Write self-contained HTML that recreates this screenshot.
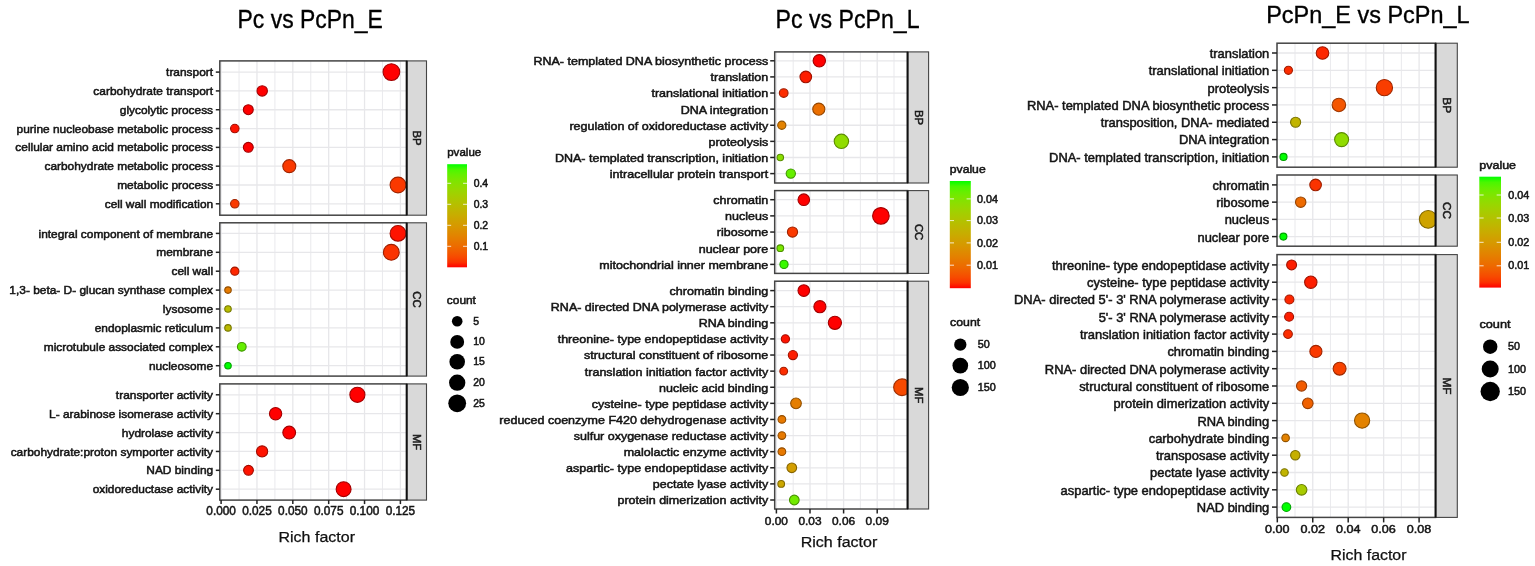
<!DOCTYPE html>
<html><head><meta charset="utf-8"><title>Rich factor dot plots</title>
<style>html,body{margin:0;padding:0;background:#fff;}svg{display:block;}text{font-family:'Liberation Sans',Arial,sans-serif;}</style>
</head><body>
<svg width="1535" height="566" viewBox="0 0 1535 566">
<rect width="1535" height="566" fill="#fff"/>
<rect x="219.8" y="60.9" width="186.89999999999998" height="154.29999999999998" fill="#fff"/>
<line x1="239.03" y1="60.9" x2="239.03" y2="215.2" stroke="#ebebee" stroke-width="1.1"/>
<line x1="274.89" y1="60.9" x2="274.89" y2="215.2" stroke="#ebebee" stroke-width="1.1"/>
<line x1="310.75" y1="60.9" x2="310.75" y2="215.2" stroke="#ebebee" stroke-width="1.1"/>
<line x1="346.61" y1="60.9" x2="346.61" y2="215.2" stroke="#ebebee" stroke-width="1.1"/>
<line x1="382.47" y1="60.9" x2="382.47" y2="215.2" stroke="#ebebee" stroke-width="1.1"/>
<line x1="221.10" y1="60.9" x2="221.10" y2="215.2" stroke="#e7e7ea" stroke-width="1.3"/>
<line x1="256.96" y1="60.9" x2="256.96" y2="215.2" stroke="#e7e7ea" stroke-width="1.3"/>
<line x1="292.82" y1="60.9" x2="292.82" y2="215.2" stroke="#e7e7ea" stroke-width="1.3"/>
<line x1="328.68" y1="60.9" x2="328.68" y2="215.2" stroke="#e7e7ea" stroke-width="1.3"/>
<line x1="364.54" y1="60.9" x2="364.54" y2="215.2" stroke="#e7e7ea" stroke-width="1.3"/>
<line x1="400.40" y1="60.9" x2="400.40" y2="215.2" stroke="#e7e7ea" stroke-width="1.3"/>
<line x1="219.8" y1="72.10" x2="406.7" y2="72.10" stroke="#e7e7ea" stroke-width="1.3"/>
<line x1="219.8" y1="90.91" x2="406.7" y2="90.91" stroke="#e7e7ea" stroke-width="1.3"/>
<line x1="219.8" y1="109.73" x2="406.7" y2="109.73" stroke="#e7e7ea" stroke-width="1.3"/>
<line x1="219.8" y1="128.54" x2="406.7" y2="128.54" stroke="#e7e7ea" stroke-width="1.3"/>
<line x1="219.8" y1="147.36" x2="406.7" y2="147.36" stroke="#e7e7ea" stroke-width="1.3"/>
<line x1="219.8" y1="166.17" x2="406.7" y2="166.17" stroke="#e7e7ea" stroke-width="1.3"/>
<line x1="219.8" y1="184.99" x2="406.7" y2="184.99" stroke="#e7e7ea" stroke-width="1.3"/>
<line x1="219.8" y1="203.80" x2="406.7" y2="203.80" stroke="#e7e7ea" stroke-width="1.3"/>
<g clip-path="url(#clip1BP)">
<circle cx="391.40" cy="72.10" r="8.35" fill="#ff0000" stroke="#a30000" stroke-width="1.1"/>
<circle cx="262.20" cy="90.91" r="5.20" fill="#ff0000" stroke="#a30000" stroke-width="1.1"/>
<circle cx="248.30" cy="109.73" r="4.95" fill="#ff0000" stroke="#a30000" stroke-width="1.1"/>
<circle cx="234.80" cy="128.54" r="4.25" fill="#fe1300" stroke="#a20c00" stroke-width="1.1"/>
<circle cx="248.30" cy="147.36" r="4.95" fill="#ff0000" stroke="#a30000" stroke-width="1.1"/>
<circle cx="289.30" cy="166.17" r="6.50" fill="#fa3900" stroke="#a02400" stroke-width="1.1"/>
<circle cx="398.00" cy="184.99" r="7.90" fill="#fa3900" stroke="#a02400" stroke-width="1.1"/>
<circle cx="234.80" cy="203.80" r="4.25" fill="#fa3900" stroke="#a02400" stroke-width="1.1"/>
</g>
<clipPath id="clip1BP"><rect x="219.8" y="60.9" width="186.89999999999998" height="154.29999999999998"/></clipPath>
<rect x="219.8" y="60.9" width="186.89999999999998" height="154.29999999999998" fill="none" stroke="#444444" stroke-width="1.5"/>
<rect x="406.7" y="60.9" width="19.80000000000001" height="154.29999999999998" fill="#d9d9d9" stroke="#444444" stroke-width="1.1"/>
<line x1="406.7" y1="60.9" x2="406.7" y2="215.2" stroke="#111" stroke-width="2"/>
<text transform="translate(417.40,138.05) rotate(90)" x="-7.51" y="4.05" font-size="11.3" fill="#1a1a1a" stroke="#1a1a1a" stroke-width="0.55">BP</text>
<line x1="215.8" y1="72.10" x2="219.8" y2="72.10" stroke="#222" stroke-width="1.5"/>
<text x="166.09" y="76.20" font-size="11" textLength="46.96" lengthAdjust="spacingAndGlyphs" fill="#141414" stroke="#141414" stroke-width="0.5" >transport</text>
<line x1="215.8" y1="90.91" x2="219.8" y2="90.91" stroke="#222" stroke-width="1.5"/>
<text x="93.39" y="95.01" font-size="11" textLength="119.72" lengthAdjust="spacingAndGlyphs" fill="#141414" stroke="#141414" stroke-width="0.5" >carbohydrate transport</text>
<line x1="215.8" y1="109.73" x2="219.8" y2="109.73" stroke="#222" stroke-width="1.5"/>
<text x="119.80" y="113.83" font-size="11" textLength="93.24" lengthAdjust="spacingAndGlyphs" fill="#141414" stroke="#141414" stroke-width="0.5" >glycolytic process</text>
<line x1="215.8" y1="128.54" x2="219.8" y2="128.54" stroke="#222" stroke-width="1.5"/>
<text x="16.63" y="132.64" font-size="11" textLength="196.45" lengthAdjust="spacingAndGlyphs" fill="#141414" stroke="#141414" stroke-width="0.5" >purine nucleobase metabolic process</text>
<line x1="215.8" y1="147.36" x2="219.8" y2="147.36" stroke="#222" stroke-width="1.5"/>
<text x="15.32" y="151.46" font-size="11" textLength="197.75" lengthAdjust="spacingAndGlyphs" fill="#141414" stroke="#141414" stroke-width="0.5" >cellular amino acid metabolic process</text>
<line x1="215.8" y1="166.17" x2="219.8" y2="166.17" stroke="#222" stroke-width="1.5"/>
<text x="44.48" y="170.27" font-size="11" textLength="168.66" lengthAdjust="spacingAndGlyphs" fill="#141414" stroke="#141414" stroke-width="0.5" >carbohydrate metabolic process</text>
<line x1="215.8" y1="184.99" x2="219.8" y2="184.99" stroke="#222" stroke-width="1.5"/>
<text x="117.19" y="189.09" font-size="11" textLength="95.90" lengthAdjust="spacingAndGlyphs" fill="#141414" stroke="#141414" stroke-width="0.5" >metabolic process</text>
<line x1="215.8" y1="203.80" x2="219.8" y2="203.80" stroke="#222" stroke-width="1.5"/>
<text x="104.69" y="207.90" font-size="11" textLength="108.46" lengthAdjust="spacingAndGlyphs" fill="#141414" stroke="#141414" stroke-width="0.5" >cell wall modification</text>
<rect x="219.8" y="222.8" width="186.89999999999998" height="153.3" fill="#fff"/>
<line x1="239.03" y1="222.8" x2="239.03" y2="376.1" stroke="#ebebee" stroke-width="1.1"/>
<line x1="274.89" y1="222.8" x2="274.89" y2="376.1" stroke="#ebebee" stroke-width="1.1"/>
<line x1="310.75" y1="222.8" x2="310.75" y2="376.1" stroke="#ebebee" stroke-width="1.1"/>
<line x1="346.61" y1="222.8" x2="346.61" y2="376.1" stroke="#ebebee" stroke-width="1.1"/>
<line x1="382.47" y1="222.8" x2="382.47" y2="376.1" stroke="#ebebee" stroke-width="1.1"/>
<line x1="221.10" y1="222.8" x2="221.10" y2="376.1" stroke="#e7e7ea" stroke-width="1.3"/>
<line x1="256.96" y1="222.8" x2="256.96" y2="376.1" stroke="#e7e7ea" stroke-width="1.3"/>
<line x1="292.82" y1="222.8" x2="292.82" y2="376.1" stroke="#e7e7ea" stroke-width="1.3"/>
<line x1="328.68" y1="222.8" x2="328.68" y2="376.1" stroke="#e7e7ea" stroke-width="1.3"/>
<line x1="364.54" y1="222.8" x2="364.54" y2="376.1" stroke="#e7e7ea" stroke-width="1.3"/>
<line x1="400.40" y1="222.8" x2="400.40" y2="376.1" stroke="#e7e7ea" stroke-width="1.3"/>
<line x1="219.8" y1="233.40" x2="406.7" y2="233.40" stroke="#e7e7ea" stroke-width="1.3"/>
<line x1="219.8" y1="252.30" x2="406.7" y2="252.30" stroke="#e7e7ea" stroke-width="1.3"/>
<line x1="219.8" y1="271.20" x2="406.7" y2="271.20" stroke="#e7e7ea" stroke-width="1.3"/>
<line x1="219.8" y1="290.10" x2="406.7" y2="290.10" stroke="#e7e7ea" stroke-width="1.3"/>
<line x1="219.8" y1="309.00" x2="406.7" y2="309.00" stroke="#e7e7ea" stroke-width="1.3"/>
<line x1="219.8" y1="327.90" x2="406.7" y2="327.90" stroke="#e7e7ea" stroke-width="1.3"/>
<line x1="219.8" y1="346.80" x2="406.7" y2="346.80" stroke="#e7e7ea" stroke-width="1.3"/>
<line x1="219.8" y1="365.70" x2="406.7" y2="365.70" stroke="#e7e7ea" stroke-width="1.3"/>
<g clip-path="url(#clip1CC)">
<circle cx="398.00" cy="233.40" r="7.90" fill="#fe1300" stroke="#a20c00" stroke-width="1.1"/>
<circle cx="391.30" cy="252.30" r="7.90" fill="#fb3300" stroke="#a02000" stroke-width="1.1"/>
<circle cx="234.80" cy="271.20" r="4.10" fill="#fd2700" stroke="#a11800" stroke-width="1.1"/>
<circle cx="228.00" cy="290.10" r="3.25" fill="#e67b00" stroke="#934e00" stroke-width="1.1"/>
<circle cx="228.00" cy="309.00" r="3.25" fill="#b8bd00" stroke="#757800" stroke-width="1.1"/>
<circle cx="228.00" cy="327.90" r="3.25" fill="#bbba00" stroke="#777700" stroke-width="1.1"/>
<circle cx="241.80" cy="346.80" r="4.35" fill="#65ef00" stroke="#409800" stroke-width="1.1"/>
<circle cx="228.00" cy="365.70" r="3.25" fill="#00ff00" stroke="#00a300" stroke-width="1.1"/>
</g>
<clipPath id="clip1CC"><rect x="219.8" y="222.8" width="186.89999999999998" height="153.3"/></clipPath>
<rect x="219.8" y="222.8" width="186.89999999999998" height="153.3" fill="none" stroke="#444444" stroke-width="1.5"/>
<rect x="406.7" y="222.8" width="19.80000000000001" height="153.3" fill="#d9d9d9" stroke="#444444" stroke-width="1.1"/>
<line x1="406.7" y1="222.8" x2="406.7" y2="376.1" stroke="#111" stroke-width="2"/>
<text transform="translate(417.40,299.45) rotate(90)" x="-8.14" y="4.05" font-size="11.3" fill="#1a1a1a" stroke="#1a1a1a" stroke-width="0.55">CC</text>
<line x1="215.8" y1="233.40" x2="219.8" y2="233.40" stroke="#222" stroke-width="1.5"/>
<text x="38.53" y="237.50" font-size="11" textLength="174.62" lengthAdjust="spacingAndGlyphs" fill="#141414" stroke="#141414" stroke-width="0.5" >integral component of membrane</text>
<line x1="215.8" y1="252.30" x2="219.8" y2="252.30" stroke="#222" stroke-width="1.5"/>
<text x="156.22" y="256.40" font-size="11" textLength="56.87" lengthAdjust="spacingAndGlyphs" fill="#141414" stroke="#141414" stroke-width="0.5" >membrane</text>
<line x1="215.8" y1="271.20" x2="219.8" y2="271.20" stroke="#222" stroke-width="1.5"/>
<text x="171.45" y="275.30" font-size="11" textLength="41.66" lengthAdjust="spacingAndGlyphs" fill="#141414" stroke="#141414" stroke-width="0.5" >cell wall</text>
<line x1="215.8" y1="290.10" x2="219.8" y2="290.10" stroke="#222" stroke-width="1.5"/>
<text x="9.37" y="294.20" font-size="11" textLength="203.71" lengthAdjust="spacingAndGlyphs" fill="#141414" stroke="#141414" stroke-width="0.5" >1,3- beta- D- glucan synthase complex</text>
<line x1="215.8" y1="309.00" x2="219.8" y2="309.00" stroke="#222" stroke-width="1.5"/>
<text x="162.88" y="313.10" font-size="11" textLength="50.26" lengthAdjust="spacingAndGlyphs" fill="#141414" stroke="#141414" stroke-width="0.5" >lysosome</text>
<line x1="215.8" y1="327.90" x2="219.8" y2="327.90" stroke="#222" stroke-width="1.5"/>
<text x="94.69" y="332.00" font-size="11" textLength="118.38" lengthAdjust="spacingAndGlyphs" fill="#141414" stroke="#141414" stroke-width="0.5" >endoplasmic reticulum</text>
<line x1="215.8" y1="346.80" x2="219.8" y2="346.80" stroke="#222" stroke-width="1.5"/>
<text x="43.76" y="350.90" font-size="11" textLength="169.31" lengthAdjust="spacingAndGlyphs" fill="#141414" stroke="#141414" stroke-width="0.5" >microtubule associated complex</text>
<line x1="215.8" y1="365.70" x2="219.8" y2="365.70" stroke="#222" stroke-width="1.5"/>
<text x="148.96" y="369.80" font-size="11" textLength="64.16" lengthAdjust="spacingAndGlyphs" fill="#141414" stroke="#141414" stroke-width="0.5" >nucleosome</text>
<rect x="219.8" y="383.9" width="186.89999999999998" height="116.20000000000005" fill="#fff"/>
<line x1="239.03" y1="383.9" x2="239.03" y2="500.1" stroke="#ebebee" stroke-width="1.1"/>
<line x1="274.89" y1="383.9" x2="274.89" y2="500.1" stroke="#ebebee" stroke-width="1.1"/>
<line x1="310.75" y1="383.9" x2="310.75" y2="500.1" stroke="#ebebee" stroke-width="1.1"/>
<line x1="346.61" y1="383.9" x2="346.61" y2="500.1" stroke="#ebebee" stroke-width="1.1"/>
<line x1="382.47" y1="383.9" x2="382.47" y2="500.1" stroke="#ebebee" stroke-width="1.1"/>
<line x1="221.10" y1="383.9" x2="221.10" y2="500.1" stroke="#e7e7ea" stroke-width="1.3"/>
<line x1="256.96" y1="383.9" x2="256.96" y2="500.1" stroke="#e7e7ea" stroke-width="1.3"/>
<line x1="292.82" y1="383.9" x2="292.82" y2="500.1" stroke="#e7e7ea" stroke-width="1.3"/>
<line x1="328.68" y1="383.9" x2="328.68" y2="500.1" stroke="#e7e7ea" stroke-width="1.3"/>
<line x1="364.54" y1="383.9" x2="364.54" y2="500.1" stroke="#e7e7ea" stroke-width="1.3"/>
<line x1="400.40" y1="383.9" x2="400.40" y2="500.1" stroke="#e7e7ea" stroke-width="1.3"/>
<line x1="219.8" y1="394.80" x2="406.7" y2="394.80" stroke="#e7e7ea" stroke-width="1.3"/>
<line x1="219.8" y1="413.68" x2="406.7" y2="413.68" stroke="#e7e7ea" stroke-width="1.3"/>
<line x1="219.8" y1="432.56" x2="406.7" y2="432.56" stroke="#e7e7ea" stroke-width="1.3"/>
<line x1="219.8" y1="451.44" x2="406.7" y2="451.44" stroke="#e7e7ea" stroke-width="1.3"/>
<line x1="219.8" y1="470.32" x2="406.7" y2="470.32" stroke="#e7e7ea" stroke-width="1.3"/>
<line x1="219.8" y1="489.20" x2="406.7" y2="489.20" stroke="#e7e7ea" stroke-width="1.3"/>
<g clip-path="url(#clip1MF)">
<circle cx="357.40" cy="394.80" r="7.55" fill="#ff0000" stroke="#a30000" stroke-width="1.1"/>
<circle cx="275.60" cy="413.68" r="6.15" fill="#ff0000" stroke="#a30000" stroke-width="1.1"/>
<circle cx="289.20" cy="432.56" r="6.40" fill="#ff0000" stroke="#a30000" stroke-width="1.1"/>
<circle cx="262.10" cy="451.44" r="5.60" fill="#fe1300" stroke="#a20c00" stroke-width="1.1"/>
<circle cx="248.50" cy="470.32" r="4.90" fill="#fe1300" stroke="#a20c00" stroke-width="1.1"/>
<circle cx="343.60" cy="489.20" r="7.45" fill="#ff0000" stroke="#a30000" stroke-width="1.1"/>
</g>
<clipPath id="clip1MF"><rect x="219.8" y="383.9" width="186.89999999999998" height="116.20000000000005"/></clipPath>
<rect x="219.8" y="383.9" width="186.89999999999998" height="116.20000000000005" fill="none" stroke="#444444" stroke-width="1.5"/>
<rect x="406.7" y="383.9" width="19.80000000000001" height="116.20000000000005" fill="#d9d9d9" stroke="#444444" stroke-width="1.1"/>
<line x1="406.7" y1="383.9" x2="406.7" y2="500.1" stroke="#111" stroke-width="2"/>
<text transform="translate(417.40,442.00) rotate(90)" x="-8.14" y="4.05" font-size="11.3" fill="#1a1a1a" stroke="#1a1a1a" stroke-width="0.55">MF</text>
<line x1="215.8" y1="394.80" x2="219.8" y2="394.80" stroke="#222" stroke-width="1.5"/>
<text x="115.88" y="398.90" font-size="11" textLength="97.21" lengthAdjust="spacingAndGlyphs" fill="#141414" stroke="#141414" stroke-width="0.5" >transporter activity</text>
<line x1="215.8" y1="413.68" x2="219.8" y2="413.68" stroke="#222" stroke-width="1.5"/>
<text x="49.12" y="417.78" font-size="11" textLength="164.02" lengthAdjust="spacingAndGlyphs" fill="#141414" stroke="#141414" stroke-width="0.5" >L- arabinose isomerase activity</text>
<line x1="215.8" y1="432.56" x2="219.8" y2="432.56" stroke="#222" stroke-width="1.5"/>
<text x="121.83" y="436.66" font-size="11" textLength="91.27" lengthAdjust="spacingAndGlyphs" fill="#141414" stroke="#141414" stroke-width="0.5" >hydrolase activity</text>
<line x1="215.8" y1="451.44" x2="219.8" y2="451.44" stroke="#222" stroke-width="1.5"/>
<text x="10.68" y="455.54" font-size="11" textLength="202.37" lengthAdjust="spacingAndGlyphs" fill="#141414" stroke="#141414" stroke-width="0.5" >carbohydrate:proton symporter activity</text>
<line x1="215.8" y1="470.32" x2="219.8" y2="470.32" stroke="#222" stroke-width="1.5"/>
<text x="146.34" y="474.42" font-size="11" textLength="66.81" lengthAdjust="spacingAndGlyphs" fill="#141414" stroke="#141414" stroke-width="0.5" >NAD binding</text>
<line x1="215.8" y1="489.20" x2="219.8" y2="489.20" stroke="#222" stroke-width="1.5"/>
<text x="92.67" y="493.30" font-size="11" textLength="120.38" lengthAdjust="spacingAndGlyphs" fill="#141414" stroke="#141414" stroke-width="0.5" >oxidoreductase activity</text>
<line x1="221.10" y1="500.1" x2="221.10" y2="504.1" stroke="#222" stroke-width="1.5"/>
<text x="206.35" y="515.30" font-size="12" textLength="29.53" lengthAdjust="spacingAndGlyphs" fill="#141414" stroke="#141414" stroke-width="0.5" >0.000</text>
<line x1="256.96" y1="500.1" x2="256.96" y2="504.1" stroke="#222" stroke-width="1.5"/>
<text x="242.21" y="515.30" font-size="12" textLength="29.53" lengthAdjust="spacingAndGlyphs" fill="#141414" stroke="#141414" stroke-width="0.5" >0.025</text>
<line x1="292.82" y1="500.1" x2="292.82" y2="504.1" stroke="#222" stroke-width="1.5"/>
<text x="278.07" y="515.30" font-size="12" textLength="29.53" lengthAdjust="spacingAndGlyphs" fill="#141414" stroke="#141414" stroke-width="0.5" >0.050</text>
<line x1="328.68" y1="500.1" x2="328.68" y2="504.1" stroke="#222" stroke-width="1.5"/>
<text x="313.93" y="515.30" font-size="12" textLength="29.53" lengthAdjust="spacingAndGlyphs" fill="#141414" stroke="#141414" stroke-width="0.5" >0.075</text>
<line x1="364.54" y1="500.1" x2="364.54" y2="504.1" stroke="#222" stroke-width="1.5"/>
<text x="349.79" y="515.30" font-size="12" textLength="29.53" lengthAdjust="spacingAndGlyphs" fill="#141414" stroke="#141414" stroke-width="0.5" >0.100</text>
<line x1="400.40" y1="500.1" x2="400.40" y2="504.1" stroke="#222" stroke-width="1.5"/>
<text x="385.65" y="515.30" font-size="12" textLength="29.53" lengthAdjust="spacingAndGlyphs" fill="#141414" stroke="#141414" stroke-width="0.5" >0.125</text>
<text x="237.60" y="27.90" font-size="25" textLength="145.11" lengthAdjust="spacingAndGlyphs" fill="#000" stroke="#000" stroke-width="0.35" >Pc vs PcPn_E</text>
<text x="278.50" y="541.60" font-size="14.7" textLength="76.48" lengthAdjust="spacingAndGlyphs" fill="#111" stroke="#111" stroke-width="0.25" >Rich factor</text>
<text x="447.20" y="156.40" font-size="11" textLength="34.06" lengthAdjust="spacingAndGlyphs" fill="#141414" stroke="#141414" stroke-width="0.5" >pvalue</text>
<linearGradient id="g1" x1="0" y1="0" x2="0" y2="1"><stop offset="0.00" stop-color="#00ff00"/><stop offset="0.05" stop-color="#49f700"/><stop offset="0.10" stop-color="#65ef00"/><stop offset="0.15" stop-color="#7ae700"/><stop offset="0.20" stop-color="#8adf00"/><stop offset="0.25" stop-color="#98d700"/><stop offset="0.30" stop-color="#a4ce00"/><stop offset="0.35" stop-color="#aec600"/><stop offset="0.40" stop-color="#b8bd00"/><stop offset="0.45" stop-color="#c1b400"/><stop offset="0.50" stop-color="#c9ab00"/><stop offset="0.55" stop-color="#d0a100"/><stop offset="0.60" stop-color="#d79800"/><stop offset="0.65" stop-color="#dd8d00"/><stop offset="0.70" stop-color="#e38200"/><stop offset="0.75" stop-color="#e87600"/><stop offset="0.80" stop-color="#ed6a00"/><stop offset="0.85" stop-color="#f25b00"/><stop offset="0.90" stop-color="#f74a00"/><stop offset="0.95" stop-color="#fb3300"/><stop offset="1.00" stop-color="#ff0000"/></linearGradient>
<rect x="447.2" y="164.2" width="19.80000000000001" height="103.10000000000002" fill="url(#g1)"/>
<line x1="447.2" y1="183.3" x2="451.16" y2="183.3" stroke="#fff" stroke-width="1" opacity="0.8"/>
<line x1="463.04" y1="183.3" x2="467.0" y2="183.3" stroke="#fff" stroke-width="1" opacity="0.8"/>
<text x="473.70" y="186.88" font-size="10" textLength="14.46" lengthAdjust="spacingAndGlyphs" fill="#141414" stroke="#141414" stroke-width="0.5" >0.4</text>
<line x1="447.2" y1="204.3" x2="451.16" y2="204.3" stroke="#fff" stroke-width="1" opacity="0.8"/>
<line x1="463.04" y1="204.3" x2="467.0" y2="204.3" stroke="#fff" stroke-width="1" opacity="0.8"/>
<text x="473.70" y="207.88" font-size="10" textLength="14.46" lengthAdjust="spacingAndGlyphs" fill="#141414" stroke="#141414" stroke-width="0.5" >0.3</text>
<line x1="447.2" y1="225.3" x2="451.16" y2="225.3" stroke="#fff" stroke-width="1" opacity="0.8"/>
<line x1="463.04" y1="225.3" x2="467.0" y2="225.3" stroke="#fff" stroke-width="1" opacity="0.8"/>
<text x="473.70" y="228.88" font-size="10" textLength="14.46" lengthAdjust="spacingAndGlyphs" fill="#141414" stroke="#141414" stroke-width="0.5" >0.2</text>
<line x1="447.2" y1="246.3" x2="451.16" y2="246.3" stroke="#fff" stroke-width="1" opacity="0.8"/>
<line x1="463.04" y1="246.3" x2="467.0" y2="246.3" stroke="#fff" stroke-width="1" opacity="0.8"/>
<text x="473.70" y="249.88" font-size="10" textLength="14.46" lengthAdjust="spacingAndGlyphs" fill="#141414" stroke="#141414" stroke-width="0.5" >0.1</text>
<text x="446.80" y="303.50" font-size="11" textLength="29.15" lengthAdjust="spacingAndGlyphs" fill="#141414" stroke="#141414" stroke-width="0.5" >count</text>
<circle cx="457.2" cy="321.3" r="5.30" fill="#000"/>
<text x="473.30" y="324.88" font-size="10" textLength="5.78" lengthAdjust="spacingAndGlyphs" fill="#141414" stroke="#141414" stroke-width="0.5" >5</text>
<circle cx="457.2" cy="341.9" r="6.95" fill="#000"/>
<text x="473.30" y="345.48" font-size="10" textLength="11.57" lengthAdjust="spacingAndGlyphs" fill="#141414" stroke="#141414" stroke-width="0.5" >10</text>
<circle cx="457.2" cy="361.7" r="7.80" fill="#000"/>
<text x="473.30" y="365.28" font-size="10" textLength="11.57" lengthAdjust="spacingAndGlyphs" fill="#141414" stroke="#141414" stroke-width="0.5" >15</text>
<circle cx="457.2" cy="382.7" r="8.15" fill="#000"/>
<text x="473.30" y="386.28" font-size="10" textLength="11.57" lengthAdjust="spacingAndGlyphs" fill="#141414" stroke="#141414" stroke-width="0.5" >20</text>
<circle cx="457.2" cy="403.3" r="8.90" fill="#000"/>
<text x="473.30" y="406.88" font-size="10" textLength="11.57" lengthAdjust="spacingAndGlyphs" fill="#141414" stroke="#141414" stroke-width="0.5" >25</text>
<rect x="774.7" y="51.9" width="132.89999999999998" height="131.1" fill="#fff"/>
<line x1="793.20" y1="51.9" x2="793.20" y2="183.0" stroke="#ebebee" stroke-width="1.1"/>
<line x1="826.80" y1="51.9" x2="826.80" y2="183.0" stroke="#ebebee" stroke-width="1.1"/>
<line x1="860.40" y1="51.9" x2="860.40" y2="183.0" stroke="#ebebee" stroke-width="1.1"/>
<line x1="894.00" y1="51.9" x2="894.00" y2="183.0" stroke="#ebebee" stroke-width="1.1"/>
<line x1="776.40" y1="51.9" x2="776.40" y2="183.0" stroke="#e7e7ea" stroke-width="1.3"/>
<line x1="810.00" y1="51.9" x2="810.00" y2="183.0" stroke="#e7e7ea" stroke-width="1.3"/>
<line x1="843.60" y1="51.9" x2="843.60" y2="183.0" stroke="#e7e7ea" stroke-width="1.3"/>
<line x1="877.20" y1="51.9" x2="877.20" y2="183.0" stroke="#e7e7ea" stroke-width="1.3"/>
<line x1="774.7" y1="60.80" x2="907.6" y2="60.80" stroke="#e7e7ea" stroke-width="1.3"/>
<line x1="774.7" y1="76.91" x2="907.6" y2="76.91" stroke="#e7e7ea" stroke-width="1.3"/>
<line x1="774.7" y1="93.03" x2="907.6" y2="93.03" stroke="#e7e7ea" stroke-width="1.3"/>
<line x1="774.7" y1="109.14" x2="907.6" y2="109.14" stroke="#e7e7ea" stroke-width="1.3"/>
<line x1="774.7" y1="125.26" x2="907.6" y2="125.26" stroke="#e7e7ea" stroke-width="1.3"/>
<line x1="774.7" y1="141.37" x2="907.6" y2="141.37" stroke="#e7e7ea" stroke-width="1.3"/>
<line x1="774.7" y1="157.49" x2="907.6" y2="157.49" stroke="#e7e7ea" stroke-width="1.3"/>
<line x1="774.7" y1="173.60" x2="907.6" y2="173.60" stroke="#e7e7ea" stroke-width="1.3"/>
<g clip-path="url(#clip2BP)">
<circle cx="819.30" cy="60.80" r="6.20" fill="#ff0000" stroke="#a30000" stroke-width="1.1"/>
<circle cx="805.80" cy="76.91" r="5.80" fill="#fd1e00" stroke="#a11300" stroke-width="1.1"/>
<circle cx="783.70" cy="93.03" r="4.35" fill="#fc2d00" stroke="#a11c00" stroke-width="1.1"/>
<circle cx="818.80" cy="109.14" r="6.05" fill="#eb6f00" stroke="#964700" stroke-width="1.1"/>
<circle cx="781.80" cy="125.26" r="4.10" fill="#e38200" stroke="#915300" stroke-width="1.1"/>
<circle cx="841.40" cy="141.37" r="7.20" fill="#90dc00" stroke="#5c8c00" stroke-width="1.1"/>
<circle cx="780.30" cy="157.49" r="3.25" fill="#8adf00" stroke="#588e00" stroke-width="1.1"/>
<circle cx="790.80" cy="173.60" r="4.65" fill="#65ef00" stroke="#409800" stroke-width="1.1"/>
</g>
<clipPath id="clip2BP"><rect x="774.7" y="51.9" width="132.89999999999998" height="131.1"/></clipPath>
<rect x="774.7" y="51.9" width="132.89999999999998" height="131.1" fill="none" stroke="#444444" stroke-width="1.5"/>
<rect x="907.6" y="51.9" width="21.0" height="131.1" fill="#d9d9d9" stroke="#444444" stroke-width="1.1"/>
<line x1="907.6" y1="51.9" x2="907.6" y2="183.0" stroke="#111" stroke-width="2"/>
<text transform="translate(918.90,117.45) rotate(90)" x="-7.51" y="4.05" font-size="11.3" fill="#1a1a1a" stroke="#1a1a1a" stroke-width="0.55">BP</text>
<line x1="770.2" y1="60.80" x2="774.7" y2="60.80" stroke="#222" stroke-width="1.5"/>
<text x="533.45" y="65.20" font-size="11.1" textLength="234.81" lengthAdjust="spacingAndGlyphs" fill="#141414" stroke="#141414" stroke-width="0.5" >RNA- templated DNA biosynthetic process</text>
<line x1="770.2" y1="76.91" x2="774.7" y2="76.91" stroke="#222" stroke-width="1.5"/>
<text x="710.58" y="81.31" font-size="11.1" textLength="57.67" lengthAdjust="spacingAndGlyphs" fill="#141414" stroke="#141414" stroke-width="0.5" >translation</text>
<line x1="770.2" y1="93.03" x2="774.7" y2="93.03" stroke="#222" stroke-width="1.5"/>
<text x="651.45" y="97.43" font-size="11.1" textLength="116.73" lengthAdjust="spacingAndGlyphs" fill="#141414" stroke="#141414" stroke-width="0.5" >translational initiation</text>
<line x1="770.2" y1="109.14" x2="774.7" y2="109.14" stroke="#222" stroke-width="1.5"/>
<text x="680.70" y="113.54" font-size="11.1" textLength="87.54" lengthAdjust="spacingAndGlyphs" fill="#141414" stroke="#141414" stroke-width="0.5" >DNA integration</text>
<line x1="770.2" y1="125.26" x2="774.7" y2="125.26" stroke="#222" stroke-width="1.5"/>
<text x="569.45" y="129.66" font-size="11.1" textLength="198.71" lengthAdjust="spacingAndGlyphs" fill="#141414" stroke="#141414" stroke-width="0.5" >regulation of oxidoreductase activity</text>
<line x1="770.2" y1="141.37" x2="774.7" y2="141.37" stroke="#222" stroke-width="1.5"/>
<text x="708.45" y="145.77" font-size="11.1" textLength="59.74" lengthAdjust="spacingAndGlyphs" fill="#141414" stroke="#141414" stroke-width="0.5" >proteolysis</text>
<line x1="770.2" y1="157.49" x2="774.7" y2="157.49" stroke="#222" stroke-width="1.5"/>
<text x="554.95" y="161.89" font-size="11.1" textLength="213.28" lengthAdjust="spacingAndGlyphs" fill="#141414" stroke="#141414" stroke-width="0.5" >DNA- templated transcription, initiation</text>
<line x1="770.2" y1="173.60" x2="774.7" y2="173.60" stroke="#222" stroke-width="1.5"/>
<text x="609.83" y="178.00" font-size="11.1" textLength="158.40" lengthAdjust="spacingAndGlyphs" fill="#141414" stroke="#141414" stroke-width="0.5" >intracellular protein transport</text>
<rect x="774.7" y="190.6" width="132.89999999999998" height="82.79999999999998" fill="#fff"/>
<line x1="793.20" y1="190.6" x2="793.20" y2="273.4" stroke="#ebebee" stroke-width="1.1"/>
<line x1="826.80" y1="190.6" x2="826.80" y2="273.4" stroke="#ebebee" stroke-width="1.1"/>
<line x1="860.40" y1="190.6" x2="860.40" y2="273.4" stroke="#ebebee" stroke-width="1.1"/>
<line x1="894.00" y1="190.6" x2="894.00" y2="273.4" stroke="#ebebee" stroke-width="1.1"/>
<line x1="776.40" y1="190.6" x2="776.40" y2="273.4" stroke="#e7e7ea" stroke-width="1.3"/>
<line x1="810.00" y1="190.6" x2="810.00" y2="273.4" stroke="#e7e7ea" stroke-width="1.3"/>
<line x1="843.60" y1="190.6" x2="843.60" y2="273.4" stroke="#e7e7ea" stroke-width="1.3"/>
<line x1="877.20" y1="190.6" x2="877.20" y2="273.4" stroke="#e7e7ea" stroke-width="1.3"/>
<line x1="774.7" y1="199.70" x2="907.6" y2="199.70" stroke="#e7e7ea" stroke-width="1.3"/>
<line x1="774.7" y1="215.88" x2="907.6" y2="215.88" stroke="#e7e7ea" stroke-width="1.3"/>
<line x1="774.7" y1="232.05" x2="907.6" y2="232.05" stroke="#e7e7ea" stroke-width="1.3"/>
<line x1="774.7" y1="248.22" x2="907.6" y2="248.22" stroke="#e7e7ea" stroke-width="1.3"/>
<line x1="774.7" y1="264.40" x2="907.6" y2="264.40" stroke="#e7e7ea" stroke-width="1.3"/>
<g clip-path="url(#clip2CC)">
<circle cx="803.80" cy="199.70" r="5.80" fill="#ff0000" stroke="#a30000" stroke-width="1.1"/>
<circle cx="880.90" cy="215.88" r="8.30" fill="#ff0000" stroke="#a30000" stroke-width="1.1"/>
<circle cx="792.50" cy="232.05" r="5.10" fill="#fa3900" stroke="#a02400" stroke-width="1.1"/>
<circle cx="780.30" cy="248.22" r="3.35" fill="#7ae700" stroke="#4e9300" stroke-width="1.1"/>
<circle cx="784.00" cy="264.40" r="4.10" fill="#38fa00" stroke="#23a000" stroke-width="1.1"/>
</g>
<clipPath id="clip2CC"><rect x="774.7" y="190.6" width="132.89999999999998" height="82.79999999999998"/></clipPath>
<rect x="774.7" y="190.6" width="132.89999999999998" height="82.79999999999998" fill="none" stroke="#444444" stroke-width="1.5"/>
<rect x="907.6" y="190.6" width="21.0" height="82.79999999999998" fill="#d9d9d9" stroke="#444444" stroke-width="1.1"/>
<line x1="907.6" y1="190.6" x2="907.6" y2="273.4" stroke="#111" stroke-width="2"/>
<text transform="translate(918.90,232.00) rotate(90)" x="-8.14" y="4.05" font-size="11.3" fill="#1a1a1a" stroke="#1a1a1a" stroke-width="0.55">CC</text>
<line x1="770.2" y1="199.70" x2="774.7" y2="199.70" stroke="#222" stroke-width="1.5"/>
<text x="713.33" y="204.10" font-size="11.1" textLength="54.88" lengthAdjust="spacingAndGlyphs" fill="#141414" stroke="#141414" stroke-width="0.5" >chromatin</text>
<line x1="770.2" y1="215.88" x2="774.7" y2="215.88" stroke="#222" stroke-width="1.5"/>
<text x="725.08" y="220.28" font-size="11.1" textLength="43.08" lengthAdjust="spacingAndGlyphs" fill="#141414" stroke="#141414" stroke-width="0.5" >nucleus</text>
<line x1="770.2" y1="232.05" x2="774.7" y2="232.05" stroke="#222" stroke-width="1.5"/>
<text x="716.83" y="236.45" font-size="11.1" textLength="51.41" lengthAdjust="spacingAndGlyphs" fill="#141414" stroke="#141414" stroke-width="0.5" >ribosome</text>
<line x1="770.2" y1="248.22" x2="774.7" y2="248.22" stroke="#222" stroke-width="1.5"/>
<text x="698.70" y="252.62" font-size="11.1" textLength="69.48" lengthAdjust="spacingAndGlyphs" fill="#141414" stroke="#141414" stroke-width="0.5" >nuclear pore</text>
<line x1="770.2" y1="264.40" x2="774.7" y2="264.40" stroke="#222" stroke-width="1.5"/>
<text x="599.33" y="268.80" font-size="11.1" textLength="168.82" lengthAdjust="spacingAndGlyphs" fill="#141414" stroke="#141414" stroke-width="0.5" >mitochondrial inner membrane</text>
<rect x="774.7" y="281.2" width="132.89999999999998" height="227.8" fill="#fff"/>
<line x1="793.20" y1="281.2" x2="793.20" y2="509.0" stroke="#ebebee" stroke-width="1.1"/>
<line x1="826.80" y1="281.2" x2="826.80" y2="509.0" stroke="#ebebee" stroke-width="1.1"/>
<line x1="860.40" y1="281.2" x2="860.40" y2="509.0" stroke="#ebebee" stroke-width="1.1"/>
<line x1="894.00" y1="281.2" x2="894.00" y2="509.0" stroke="#ebebee" stroke-width="1.1"/>
<line x1="776.40" y1="281.2" x2="776.40" y2="509.0" stroke="#e7e7ea" stroke-width="1.3"/>
<line x1="810.00" y1="281.2" x2="810.00" y2="509.0" stroke="#e7e7ea" stroke-width="1.3"/>
<line x1="843.60" y1="281.2" x2="843.60" y2="509.0" stroke="#e7e7ea" stroke-width="1.3"/>
<line x1="877.20" y1="281.2" x2="877.20" y2="509.0" stroke="#e7e7ea" stroke-width="1.3"/>
<line x1="774.7" y1="290.60" x2="907.6" y2="290.60" stroke="#e7e7ea" stroke-width="1.3"/>
<line x1="774.7" y1="306.71" x2="907.6" y2="306.71" stroke="#e7e7ea" stroke-width="1.3"/>
<line x1="774.7" y1="322.82" x2="907.6" y2="322.82" stroke="#e7e7ea" stroke-width="1.3"/>
<line x1="774.7" y1="338.92" x2="907.6" y2="338.92" stroke="#e7e7ea" stroke-width="1.3"/>
<line x1="774.7" y1="355.03" x2="907.6" y2="355.03" stroke="#e7e7ea" stroke-width="1.3"/>
<line x1="774.7" y1="371.14" x2="907.6" y2="371.14" stroke="#e7e7ea" stroke-width="1.3"/>
<line x1="774.7" y1="387.25" x2="907.6" y2="387.25" stroke="#e7e7ea" stroke-width="1.3"/>
<line x1="774.7" y1="403.35" x2="907.6" y2="403.35" stroke="#e7e7ea" stroke-width="1.3"/>
<line x1="774.7" y1="419.46" x2="907.6" y2="419.46" stroke="#e7e7ea" stroke-width="1.3"/>
<line x1="774.7" y1="435.57" x2="907.6" y2="435.57" stroke="#e7e7ea" stroke-width="1.3"/>
<line x1="774.7" y1="451.68" x2="907.6" y2="451.68" stroke="#e7e7ea" stroke-width="1.3"/>
<line x1="774.7" y1="467.78" x2="907.6" y2="467.78" stroke="#e7e7ea" stroke-width="1.3"/>
<line x1="774.7" y1="483.89" x2="907.6" y2="483.89" stroke="#e7e7ea" stroke-width="1.3"/>
<line x1="774.7" y1="500.00" x2="907.6" y2="500.00" stroke="#e7e7ea" stroke-width="1.3"/>
<g clip-path="url(#clip2MF)">
<circle cx="803.80" cy="290.60" r="5.80" fill="#ff0000" stroke="#a30000" stroke-width="1.1"/>
<circle cx="819.90" cy="306.71" r="6.05" fill="#ff0000" stroke="#a30000" stroke-width="1.1"/>
<circle cx="834.90" cy="322.82" r="6.60" fill="#ff0000" stroke="#a30000" stroke-width="1.1"/>
<circle cx="785.40" cy="338.92" r="4.10" fill="#fe1300" stroke="#a20c00" stroke-width="1.1"/>
<circle cx="792.90" cy="355.03" r="4.60" fill="#fd1e00" stroke="#a11300" stroke-width="1.1"/>
<circle cx="783.70" cy="371.14" r="3.85" fill="#fc2d00" stroke="#a11c00" stroke-width="1.1"/>
<circle cx="902.00" cy="387.25" r="8.35" fill="#f74a00" stroke="#9e2f00" stroke-width="1.1"/>
<circle cx="796.00" cy="403.35" r="5.35" fill="#e57e00" stroke="#925000" stroke-width="1.1"/>
<circle cx="781.90" cy="419.46" r="3.85" fill="#e77900" stroke="#934d00" stroke-width="1.1"/>
<circle cx="781.90" cy="435.57" r="3.85" fill="#e77900" stroke="#934d00" stroke-width="1.1"/>
<circle cx="781.90" cy="451.68" r="3.85" fill="#e77900" stroke="#934d00" stroke-width="1.1"/>
<circle cx="791.80" cy="467.78" r="4.85" fill="#d39e00" stroke="#876500" stroke-width="1.1"/>
<circle cx="781.20" cy="483.89" r="3.35" fill="#cca700" stroke="#826a00" stroke-width="1.1"/>
<circle cx="794.30" cy="500.00" r="4.85" fill="#72ea00" stroke="#489500" stroke-width="1.1"/>
</g>
<clipPath id="clip2MF"><rect x="774.7" y="281.2" width="132.89999999999998" height="227.8"/></clipPath>
<rect x="774.7" y="281.2" width="132.89999999999998" height="227.8" fill="none" stroke="#444444" stroke-width="1.5"/>
<rect x="907.6" y="281.2" width="21.0" height="227.8" fill="#d9d9d9" stroke="#444444" stroke-width="1.1"/>
<line x1="907.6" y1="281.2" x2="907.6" y2="509.0" stroke="#111" stroke-width="2"/>
<text transform="translate(918.90,395.10) rotate(90)" x="-8.14" y="4.05" font-size="11.3" fill="#1a1a1a" stroke="#1a1a1a" stroke-width="0.55">MF</text>
<line x1="770.2" y1="290.60" x2="774.7" y2="290.60" stroke="#222" stroke-width="1.5"/>
<text x="669.58" y="295.00" font-size="11.1" textLength="98.66" lengthAdjust="spacingAndGlyphs" fill="#141414" stroke="#141414" stroke-width="0.5" >chromatin binding</text>
<line x1="770.2" y1="306.71" x2="774.7" y2="306.71" stroke="#222" stroke-width="1.5"/>
<text x="550.83" y="311.11" font-size="11.1" textLength="217.42" lengthAdjust="spacingAndGlyphs" fill="#141414" stroke="#141414" stroke-width="0.5" >RNA- directed DNA polymerase activity</text>
<line x1="770.2" y1="322.82" x2="774.7" y2="322.82" stroke="#222" stroke-width="1.5"/>
<text x="698.70" y="327.22" font-size="11.1" textLength="69.49" lengthAdjust="spacingAndGlyphs" fill="#141414" stroke="#141414" stroke-width="0.5" >RNA binding</text>
<line x1="770.2" y1="338.92" x2="774.7" y2="338.92" stroke="#222" stroke-width="1.5"/>
<text x="557.70" y="343.32" font-size="11.1" textLength="210.54" lengthAdjust="spacingAndGlyphs" fill="#141414" stroke="#141414" stroke-width="0.5" >threonine- type endopeptidase activity</text>
<line x1="770.2" y1="355.03" x2="774.7" y2="355.03" stroke="#222" stroke-width="1.5"/>
<text x="584.08" y="359.43" font-size="11.1" textLength="184.10" lengthAdjust="spacingAndGlyphs" fill="#141414" stroke="#141414" stroke-width="0.5" >structural constituent of ribosome</text>
<line x1="770.2" y1="371.14" x2="774.7" y2="371.14" stroke="#222" stroke-width="1.5"/>
<text x="584.83" y="375.54" font-size="11.1" textLength="183.41" lengthAdjust="spacingAndGlyphs" fill="#141414" stroke="#141414" stroke-width="0.5" >translation initiation factor activity</text>
<line x1="770.2" y1="387.25" x2="774.7" y2="387.25" stroke="#222" stroke-width="1.5"/>
<text x="659.08" y="391.65" font-size="11.1" textLength="109.09" lengthAdjust="spacingAndGlyphs" fill="#141414" stroke="#141414" stroke-width="0.5" >nucleic acid binding</text>
<line x1="770.2" y1="403.35" x2="774.7" y2="403.35" stroke="#222" stroke-width="1.5"/>
<text x="591.70" y="407.75" font-size="11.1" textLength="176.47" lengthAdjust="spacingAndGlyphs" fill="#141414" stroke="#141414" stroke-width="0.5" >cysteine- type peptidase activity</text>
<line x1="770.2" y1="419.46" x2="774.7" y2="419.46" stroke="#222" stroke-width="1.5"/>
<text x="499.33" y="423.86" font-size="11.1" textLength="268.89" lengthAdjust="spacingAndGlyphs" fill="#141414" stroke="#141414" stroke-width="0.5" >reduced coenzyme F420 dehydrogenase activity</text>
<line x1="770.2" y1="435.57" x2="774.7" y2="435.57" stroke="#222" stroke-width="1.5"/>
<text x="573.70" y="439.97" font-size="11.1" textLength="194.53" lengthAdjust="spacingAndGlyphs" fill="#141414" stroke="#141414" stroke-width="0.5" >sulfur oxygenase reductase activity</text>
<line x1="770.2" y1="451.68" x2="774.7" y2="451.68" stroke="#222" stroke-width="1.5"/>
<text x="623.70" y="456.08" font-size="11.1" textLength="144.48" lengthAdjust="spacingAndGlyphs" fill="#141414" stroke="#141414" stroke-width="0.5" >malolactic enzyme activity</text>
<line x1="770.2" y1="467.78" x2="774.7" y2="467.78" stroke="#222" stroke-width="1.5"/>
<text x="566.08" y="472.18" font-size="11.1" textLength="202.18" lengthAdjust="spacingAndGlyphs" fill="#141414" stroke="#141414" stroke-width="0.5" >aspartic- type endopeptidase activity</text>
<line x1="770.2" y1="483.89" x2="774.7" y2="483.89" stroke="#222" stroke-width="1.5"/>
<text x="652.83" y="488.29" font-size="11.1" textLength="115.33" lengthAdjust="spacingAndGlyphs" fill="#141414" stroke="#141414" stroke-width="0.5" >pectate lyase activity</text>
<line x1="770.2" y1="500.00" x2="774.7" y2="500.00" stroke="#222" stroke-width="1.5"/>
<text x="617.45" y="504.40" font-size="11.1" textLength="150.75" lengthAdjust="spacingAndGlyphs" fill="#141414" stroke="#141414" stroke-width="0.5" >protein dimerization activity</text>
<line x1="776.40" y1="509.0" x2="776.40" y2="513.5" stroke="#222" stroke-width="1.5"/>
<text x="764.80" y="524.80" font-size="11.8" textLength="23.16" lengthAdjust="spacingAndGlyphs" fill="#141414" stroke="#141414" stroke-width="0.5" >0.00</text>
<line x1="810.00" y1="509.0" x2="810.00" y2="513.5" stroke="#222" stroke-width="1.5"/>
<text x="798.40" y="524.80" font-size="11.8" textLength="23.16" lengthAdjust="spacingAndGlyphs" fill="#141414" stroke="#141414" stroke-width="0.5" >0.03</text>
<line x1="843.60" y1="509.0" x2="843.60" y2="513.5" stroke="#222" stroke-width="1.5"/>
<text x="832.00" y="524.80" font-size="11.8" textLength="23.16" lengthAdjust="spacingAndGlyphs" fill="#141414" stroke="#141414" stroke-width="0.5" >0.06</text>
<line x1="877.20" y1="509.0" x2="877.20" y2="513.5" stroke="#222" stroke-width="1.5"/>
<text x="865.60" y="524.80" font-size="11.8" textLength="23.16" lengthAdjust="spacingAndGlyphs" fill="#141414" stroke="#141414" stroke-width="0.5" >0.09</text>
<text x="775.60" y="27.80" font-size="25" textLength="143.98" lengthAdjust="spacingAndGlyphs" fill="#000" stroke="#000" stroke-width="0.35" >Pc vs PcPn_L</text>
<text x="800.70" y="547.30" font-size="14" textLength="76.58" lengthAdjust="spacingAndGlyphs" fill="#111" stroke="#111" stroke-width="0.25" >Rich factor</text>
<text x="949.80" y="172.90" font-size="11" textLength="35.86" lengthAdjust="spacingAndGlyphs" fill="#141414" stroke="#141414" stroke-width="0.5" >pvalue</text>
<linearGradient id="g2" x1="0" y1="0" x2="0" y2="1"><stop offset="0.00" stop-color="#00ff00"/><stop offset="0.05" stop-color="#49f700"/><stop offset="0.10" stop-color="#65ef00"/><stop offset="0.15" stop-color="#7ae700"/><stop offset="0.20" stop-color="#8adf00"/><stop offset="0.25" stop-color="#98d700"/><stop offset="0.30" stop-color="#a4ce00"/><stop offset="0.35" stop-color="#aec600"/><stop offset="0.40" stop-color="#b8bd00"/><stop offset="0.45" stop-color="#c1b400"/><stop offset="0.50" stop-color="#c9ab00"/><stop offset="0.55" stop-color="#d0a100"/><stop offset="0.60" stop-color="#d79800"/><stop offset="0.65" stop-color="#dd8d00"/><stop offset="0.70" stop-color="#e38200"/><stop offset="0.75" stop-color="#e87600"/><stop offset="0.80" stop-color="#ed6a00"/><stop offset="0.85" stop-color="#f25b00"/><stop offset="0.90" stop-color="#f74a00"/><stop offset="0.95" stop-color="#fb3300"/><stop offset="1.00" stop-color="#ff0000"/></linearGradient>
<rect x="949.8" y="181.0" width="21.0" height="107.19999999999999" fill="url(#g2)"/>
<line x1="949.8" y1="198.9" x2="954.00" y2="198.9" stroke="#fff" stroke-width="1" opacity="0.8"/>
<line x1="966.60" y1="198.9" x2="970.8" y2="198.9" stroke="#fff" stroke-width="1" opacity="0.8"/>
<text x="977.00" y="202.59" font-size="10.3" textLength="21.02" lengthAdjust="spacingAndGlyphs" fill="#141414" stroke="#141414" stroke-width="0.5" >0.04</text>
<line x1="949.8" y1="220.6" x2="954.00" y2="220.6" stroke="#fff" stroke-width="1" opacity="0.8"/>
<line x1="966.60" y1="220.6" x2="970.8" y2="220.6" stroke="#fff" stroke-width="1" opacity="0.8"/>
<text x="977.00" y="224.29" font-size="10.3" textLength="21.02" lengthAdjust="spacingAndGlyphs" fill="#141414" stroke="#141414" stroke-width="0.5" >0.03</text>
<line x1="949.8" y1="242.9" x2="954.00" y2="242.9" stroke="#fff" stroke-width="1" opacity="0.8"/>
<line x1="966.60" y1="242.9" x2="970.8" y2="242.9" stroke="#fff" stroke-width="1" opacity="0.8"/>
<text x="977.00" y="246.59" font-size="10.3" textLength="21.02" lengthAdjust="spacingAndGlyphs" fill="#141414" stroke="#141414" stroke-width="0.5" >0.02</text>
<line x1="949.8" y1="265.2" x2="954.00" y2="265.2" stroke="#fff" stroke-width="1" opacity="0.8"/>
<line x1="966.60" y1="265.2" x2="970.8" y2="265.2" stroke="#fff" stroke-width="1" opacity="0.8"/>
<text x="977.00" y="268.89" font-size="10.3" textLength="21.02" lengthAdjust="spacingAndGlyphs" fill="#141414" stroke="#141414" stroke-width="0.5" >0.01</text>
<text x="950.10" y="326.00" font-size="11" textLength="30.05" lengthAdjust="spacingAndGlyphs" fill="#141414" stroke="#141414" stroke-width="0.5" >count</text>
<circle cx="960.3" cy="344.7" r="6.15" fill="#000"/>
<text x="977.70" y="348.39" font-size="10.3" textLength="12.01" lengthAdjust="spacingAndGlyphs" fill="#141414" stroke="#141414" stroke-width="0.5" >50</text>
<circle cx="960.3" cy="365.6" r="7.85" fill="#000"/>
<text x="977.70" y="369.29" font-size="10.3" textLength="18.02" lengthAdjust="spacingAndGlyphs" fill="#141414" stroke="#141414" stroke-width="0.5" >100</text>
<circle cx="960.3" cy="387.5" r="8.60" fill="#000"/>
<text x="977.70" y="391.19" font-size="10.3" textLength="18.02" lengthAdjust="spacingAndGlyphs" fill="#141414" stroke="#141414" stroke-width="0.5" >150</text>
<rect x="1277.0" y="43.2" width="158.5999999999999" height="123.99999999999999" fill="#fff"/>
<line x1="1295.02" y1="43.2" x2="1295.02" y2="167.2" stroke="#ebebee" stroke-width="1.1"/>
<line x1="1330.47" y1="43.2" x2="1330.47" y2="167.2" stroke="#ebebee" stroke-width="1.1"/>
<line x1="1365.92" y1="43.2" x2="1365.92" y2="167.2" stroke="#ebebee" stroke-width="1.1"/>
<line x1="1401.38" y1="43.2" x2="1401.38" y2="167.2" stroke="#ebebee" stroke-width="1.1"/>
<line x1="1277.30" y1="43.2" x2="1277.30" y2="167.2" stroke="#e7e7ea" stroke-width="1.3"/>
<line x1="1312.75" y1="43.2" x2="1312.75" y2="167.2" stroke="#e7e7ea" stroke-width="1.3"/>
<line x1="1348.20" y1="43.2" x2="1348.20" y2="167.2" stroke="#e7e7ea" stroke-width="1.3"/>
<line x1="1383.65" y1="43.2" x2="1383.65" y2="167.2" stroke="#e7e7ea" stroke-width="1.3"/>
<line x1="1419.10" y1="43.2" x2="1419.10" y2="167.2" stroke="#e7e7ea" stroke-width="1.3"/>
<line x1="1277.0" y1="53.00" x2="1435.6" y2="53.00" stroke="#e7e7ea" stroke-width="1.3"/>
<line x1="1277.0" y1="70.32" x2="1435.6" y2="70.32" stroke="#e7e7ea" stroke-width="1.3"/>
<line x1="1277.0" y1="87.63" x2="1435.6" y2="87.63" stroke="#e7e7ea" stroke-width="1.3"/>
<line x1="1277.0" y1="104.95" x2="1435.6" y2="104.95" stroke="#e7e7ea" stroke-width="1.3"/>
<line x1="1277.0" y1="122.27" x2="1435.6" y2="122.27" stroke="#e7e7ea" stroke-width="1.3"/>
<line x1="1277.0" y1="139.58" x2="1435.6" y2="139.58" stroke="#e7e7ea" stroke-width="1.3"/>
<line x1="1277.0" y1="156.90" x2="1435.6" y2="156.90" stroke="#e7e7ea" stroke-width="1.3"/>
<g clip-path="url(#clip3BP)">
<circle cx="1322.50" cy="53.00" r="6.30" fill="#fd2700" stroke="#a11800" stroke-width="1.1"/>
<circle cx="1288.40" cy="70.32" r="4.05" fill="#fc2d00" stroke="#a11c00" stroke-width="1.1"/>
<circle cx="1384.40" cy="87.63" r="8.15" fill="#f93d00" stroke="#9f2700" stroke-width="1.1"/>
<circle cx="1338.90" cy="104.95" r="6.75" fill="#f45500" stroke="#9c3600" stroke-width="1.1"/>
<circle cx="1295.60" cy="122.27" r="5.05" fill="#c1b400" stroke="#7b7300" stroke-width="1.1"/>
<circle cx="1341.60" cy="139.58" r="7.00" fill="#90dc00" stroke="#5c8c00" stroke-width="1.1"/>
<circle cx="1283.50" cy="156.90" r="3.55" fill="#00ff00" stroke="#00a300" stroke-width="1.1"/>
</g>
<clipPath id="clip3BP"><rect x="1277.0" y="43.2" width="158.5999999999999" height="123.99999999999999"/></clipPath>
<rect x="1277.0" y="43.2" width="158.5999999999999" height="123.99999999999999" fill="none" stroke="#444444" stroke-width="1.5"/>
<rect x="1435.6" y="43.2" width="21.700000000000045" height="123.99999999999999" fill="#d9d9d9" stroke="#444444" stroke-width="1.1"/>
<line x1="1435.6" y1="43.2" x2="1435.6" y2="167.2" stroke="#111" stroke-width="2"/>
<text transform="translate(1447.25,105.20) rotate(90)" x="-7.85" y="4.22" font-size="11.8" fill="#1a1a1a" stroke="#1a1a1a" stroke-width="0.55">BP</text>
<line x1="1272.0" y1="53.00" x2="1277.0" y2="53.00" stroke="#222" stroke-width="1.5"/>
<text x="1209.73" y="57.90" font-size="12.4" textLength="59.51" lengthAdjust="spacingAndGlyphs" fill="#141414" stroke="#141414" stroke-width="0.5" >translation</text>
<line x1="1272.0" y1="70.32" x2="1277.0" y2="70.32" stroke="#222" stroke-width="1.5"/>
<text x="1148.71" y="75.22" font-size="12.4" textLength="120.46" lengthAdjust="spacingAndGlyphs" fill="#141414" stroke="#141414" stroke-width="0.5" >translational initiation</text>
<line x1="1272.0" y1="87.63" x2="1277.0" y2="87.63" stroke="#222" stroke-width="1.5"/>
<text x="1207.54" y="92.53" font-size="12.4" textLength="61.66" lengthAdjust="spacingAndGlyphs" fill="#141414" stroke="#141414" stroke-width="0.5" >proteolysis</text>
<line x1="1272.0" y1="104.95" x2="1277.0" y2="104.95" stroke="#222" stroke-width="1.5"/>
<text x="1026.94" y="109.85" font-size="12.4" textLength="242.32" lengthAdjust="spacingAndGlyphs" fill="#141414" stroke="#141414" stroke-width="0.5" >RNA- templated DNA biosynthetic process</text>
<line x1="1272.0" y1="122.27" x2="1277.0" y2="122.27" stroke="#222" stroke-width="1.5"/>
<text x="1100.73" y="127.17" font-size="12.4" textLength="168.48" lengthAdjust="spacingAndGlyphs" fill="#141414" stroke="#141414" stroke-width="0.5" >transposition, DNA- mediated</text>
<line x1="1272.0" y1="139.58" x2="1277.0" y2="139.58" stroke="#222" stroke-width="1.5"/>
<text x="1178.90" y="144.48" font-size="12.4" textLength="90.35" lengthAdjust="spacingAndGlyphs" fill="#141414" stroke="#141414" stroke-width="0.5" >DNA integration</text>
<line x1="1272.0" y1="156.90" x2="1277.0" y2="156.90" stroke="#222" stroke-width="1.5"/>
<text x="1049.13" y="161.80" font-size="12.4" textLength="220.10" lengthAdjust="spacingAndGlyphs" fill="#141414" stroke="#141414" stroke-width="0.5" >DNA- templated transcription, initiation</text>
<rect x="1277.0" y="175.0" width="158.5999999999999" height="71.19999999999999" fill="#fff"/>
<line x1="1295.02" y1="175.0" x2="1295.02" y2="246.2" stroke="#ebebee" stroke-width="1.1"/>
<line x1="1330.47" y1="175.0" x2="1330.47" y2="246.2" stroke="#ebebee" stroke-width="1.1"/>
<line x1="1365.92" y1="175.0" x2="1365.92" y2="246.2" stroke="#ebebee" stroke-width="1.1"/>
<line x1="1401.38" y1="175.0" x2="1401.38" y2="246.2" stroke="#ebebee" stroke-width="1.1"/>
<line x1="1277.30" y1="175.0" x2="1277.30" y2="246.2" stroke="#e7e7ea" stroke-width="1.3"/>
<line x1="1312.75" y1="175.0" x2="1312.75" y2="246.2" stroke="#e7e7ea" stroke-width="1.3"/>
<line x1="1348.20" y1="175.0" x2="1348.20" y2="246.2" stroke="#e7e7ea" stroke-width="1.3"/>
<line x1="1383.65" y1="175.0" x2="1383.65" y2="246.2" stroke="#e7e7ea" stroke-width="1.3"/>
<line x1="1419.10" y1="175.0" x2="1419.10" y2="246.2" stroke="#e7e7ea" stroke-width="1.3"/>
<line x1="1277.0" y1="184.90" x2="1435.6" y2="184.90" stroke="#e7e7ea" stroke-width="1.3"/>
<line x1="1277.0" y1="202.13" x2="1435.6" y2="202.13" stroke="#e7e7ea" stroke-width="1.3"/>
<line x1="1277.0" y1="219.37" x2="1435.6" y2="219.37" stroke="#e7e7ea" stroke-width="1.3"/>
<line x1="1277.0" y1="236.60" x2="1435.6" y2="236.60" stroke="#e7e7ea" stroke-width="1.3"/>
<g clip-path="url(#clip3CC)">
<circle cx="1315.60" cy="184.90" r="5.80" fill="#fb3300" stroke="#a02000" stroke-width="1.1"/>
<circle cx="1300.70" cy="202.13" r="5.20" fill="#ed6a00" stroke="#974300" stroke-width="1.1"/>
<circle cx="1428.20" cy="219.37" r="8.85" fill="#cea300" stroke="#836800" stroke-width="1.1"/>
<circle cx="1283.40" cy="236.60" r="3.50" fill="#00ff00" stroke="#00a300" stroke-width="1.1"/>
</g>
<clipPath id="clip3CC"><rect x="1277.0" y="175.0" width="158.5999999999999" height="71.19999999999999"/></clipPath>
<rect x="1277.0" y="175.0" width="158.5999999999999" height="71.19999999999999" fill="none" stroke="#444444" stroke-width="1.5"/>
<rect x="1435.6" y="175.0" width="21.700000000000045" height="71.19999999999999" fill="#d9d9d9" stroke="#444444" stroke-width="1.1"/>
<line x1="1435.6" y1="175.0" x2="1435.6" y2="246.2" stroke="#111" stroke-width="2"/>
<text transform="translate(1447.25,210.60) rotate(90)" x="-8.50" y="4.22" font-size="11.8" fill="#1a1a1a" stroke="#1a1a1a" stroke-width="0.55">CC</text>
<line x1="1272.0" y1="184.90" x2="1277.0" y2="184.90" stroke="#222" stroke-width="1.5"/>
<text x="1212.57" y="189.80" font-size="12.4" textLength="56.64" lengthAdjust="spacingAndGlyphs" fill="#141414" stroke="#141414" stroke-width="0.5" >chromatin</text>
<line x1="1272.0" y1="202.13" x2="1277.0" y2="202.13" stroke="#222" stroke-width="1.5"/>
<text x="1216.18" y="207.03" font-size="12.4" textLength="53.05" lengthAdjust="spacingAndGlyphs" fill="#141414" stroke="#141414" stroke-width="0.5" >ribosome</text>
<line x1="1272.0" y1="219.37" x2="1277.0" y2="219.37" stroke="#222" stroke-width="1.5"/>
<text x="1224.69" y="224.27" font-size="12.4" textLength="44.46" lengthAdjust="spacingAndGlyphs" fill="#141414" stroke="#141414" stroke-width="0.5" >nucleus</text>
<line x1="1272.0" y1="236.60" x2="1277.0" y2="236.60" stroke="#222" stroke-width="1.5"/>
<text x="1197.48" y="241.50" font-size="12.4" textLength="71.71" lengthAdjust="spacingAndGlyphs" fill="#141414" stroke="#141414" stroke-width="0.5" >nuclear pore</text>
<rect x="1277.0" y="254.6" width="158.5999999999999" height="262.79999999999995" fill="#fff"/>
<line x1="1295.02" y1="254.6" x2="1295.02" y2="517.4" stroke="#ebebee" stroke-width="1.1"/>
<line x1="1330.47" y1="254.6" x2="1330.47" y2="517.4" stroke="#ebebee" stroke-width="1.1"/>
<line x1="1365.92" y1="254.6" x2="1365.92" y2="517.4" stroke="#ebebee" stroke-width="1.1"/>
<line x1="1401.38" y1="254.6" x2="1401.38" y2="517.4" stroke="#ebebee" stroke-width="1.1"/>
<line x1="1277.30" y1="254.6" x2="1277.30" y2="517.4" stroke="#e7e7ea" stroke-width="1.3"/>
<line x1="1312.75" y1="254.6" x2="1312.75" y2="517.4" stroke="#e7e7ea" stroke-width="1.3"/>
<line x1="1348.20" y1="254.6" x2="1348.20" y2="517.4" stroke="#e7e7ea" stroke-width="1.3"/>
<line x1="1383.65" y1="254.6" x2="1383.65" y2="517.4" stroke="#e7e7ea" stroke-width="1.3"/>
<line x1="1419.10" y1="254.6" x2="1419.10" y2="517.4" stroke="#e7e7ea" stroke-width="1.3"/>
<line x1="1277.0" y1="264.90" x2="1435.6" y2="264.90" stroke="#e7e7ea" stroke-width="1.3"/>
<line x1="1277.0" y1="282.20" x2="1435.6" y2="282.20" stroke="#e7e7ea" stroke-width="1.3"/>
<line x1="1277.0" y1="299.50" x2="1435.6" y2="299.50" stroke="#e7e7ea" stroke-width="1.3"/>
<line x1="1277.0" y1="316.80" x2="1435.6" y2="316.80" stroke="#e7e7ea" stroke-width="1.3"/>
<line x1="1277.0" y1="334.10" x2="1435.6" y2="334.10" stroke="#e7e7ea" stroke-width="1.3"/>
<line x1="1277.0" y1="351.40" x2="1435.6" y2="351.40" stroke="#e7e7ea" stroke-width="1.3"/>
<line x1="1277.0" y1="368.70" x2="1435.6" y2="368.70" stroke="#e7e7ea" stroke-width="1.3"/>
<line x1="1277.0" y1="386.00" x2="1435.6" y2="386.00" stroke="#e7e7ea" stroke-width="1.3"/>
<line x1="1277.0" y1="403.30" x2="1435.6" y2="403.30" stroke="#e7e7ea" stroke-width="1.3"/>
<line x1="1277.0" y1="420.60" x2="1435.6" y2="420.60" stroke="#e7e7ea" stroke-width="1.3"/>
<line x1="1277.0" y1="437.90" x2="1435.6" y2="437.90" stroke="#e7e7ea" stroke-width="1.3"/>
<line x1="1277.0" y1="455.20" x2="1435.6" y2="455.20" stroke="#e7e7ea" stroke-width="1.3"/>
<line x1="1277.0" y1="472.50" x2="1435.6" y2="472.50" stroke="#e7e7ea" stroke-width="1.3"/>
<line x1="1277.0" y1="489.80" x2="1435.6" y2="489.80" stroke="#e7e7ea" stroke-width="1.3"/>
<line x1="1277.0" y1="507.10" x2="1435.6" y2="507.10" stroke="#e7e7ea" stroke-width="1.3"/>
<g clip-path="url(#clip3MF)">
<circle cx="1291.60" cy="264.90" r="4.95" fill="#fd1e00" stroke="#a11300" stroke-width="1.1"/>
<circle cx="1310.80" cy="282.20" r="6.20" fill="#fd1e00" stroke="#a11300" stroke-width="1.1"/>
<circle cx="1289.40" cy="299.50" r="4.50" fill="#fd2700" stroke="#a11800" stroke-width="1.1"/>
<circle cx="1289.10" cy="316.80" r="4.50" fill="#fd1e00" stroke="#a11300" stroke-width="1.1"/>
<circle cx="1288.00" cy="334.10" r="4.35" fill="#fc2d00" stroke="#a11c00" stroke-width="1.1"/>
<circle cx="1315.90" cy="351.40" r="6.05" fill="#fa3900" stroke="#a02400" stroke-width="1.1"/>
<circle cx="1339.60" cy="368.70" r="6.45" fill="#f84200" stroke="#9e2a00" stroke-width="1.1"/>
<circle cx="1301.60" cy="386.00" r="5.10" fill="#f25b00" stroke="#9a3a00" stroke-width="1.1"/>
<circle cx="1307.80" cy="403.30" r="5.30" fill="#f06100" stroke="#993e00" stroke-width="1.1"/>
<circle cx="1362.10" cy="420.60" r="7.60" fill="#e38200" stroke="#915300" stroke-width="1.1"/>
<circle cx="1285.60" cy="437.90" r="3.75" fill="#e38200" stroke="#915300" stroke-width="1.1"/>
<circle cx="1295.30" cy="455.20" r="4.70" fill="#c5af00" stroke="#7e7000" stroke-width="1.1"/>
<circle cx="1284.50" cy="472.50" r="3.75" fill="#c1b400" stroke="#7b7300" stroke-width="1.1"/>
<circle cx="1301.60" cy="489.80" r="5.30" fill="#a8cb00" stroke="#6b8100" stroke-width="1.1"/>
<circle cx="1286.40" cy="507.10" r="4.35" fill="#00ff00" stroke="#00a300" stroke-width="1.1"/>
</g>
<clipPath id="clip3MF"><rect x="1277.0" y="254.6" width="158.5999999999999" height="262.79999999999995"/></clipPath>
<rect x="1277.0" y="254.6" width="158.5999999999999" height="262.79999999999995" fill="none" stroke="#444444" stroke-width="1.5"/>
<rect x="1435.6" y="254.6" width="21.700000000000045" height="262.79999999999995" fill="#d9d9d9" stroke="#444444" stroke-width="1.1"/>
<line x1="1435.6" y1="254.6" x2="1435.6" y2="517.4" stroke="#111" stroke-width="2"/>
<text transform="translate(1447.25,386.00) rotate(90)" x="-8.50" y="4.22" font-size="11.8" fill="#1a1a1a" stroke="#1a1a1a" stroke-width="0.55">MF</text>
<line x1="1272.0" y1="264.90" x2="1277.0" y2="264.90" stroke="#222" stroke-width="1.5"/>
<text x="1051.96" y="269.80" font-size="12.4" textLength="217.27" lengthAdjust="spacingAndGlyphs" fill="#141414" stroke="#141414" stroke-width="0.5" >threonine- type endopeptidase activity</text>
<line x1="1272.0" y1="282.20" x2="1277.0" y2="282.20" stroke="#222" stroke-width="1.5"/>
<text x="1087.05" y="287.10" font-size="12.4" textLength="182.11" lengthAdjust="spacingAndGlyphs" fill="#141414" stroke="#141414" stroke-width="0.5" >cysteine- type peptidase activity</text>
<line x1="1272.0" y1="299.50" x2="1277.0" y2="299.50" stroke="#222" stroke-width="1.5"/>
<text x="1014.04" y="304.40" font-size="12.4" textLength="255.12" lengthAdjust="spacingAndGlyphs" fill="#141414" stroke="#141414" stroke-width="0.5" >DNA- directed 5&#39;- 3&#39; RNA polymerase activity</text>
<line x1="1272.0" y1="316.80" x2="1277.0" y2="316.80" stroke="#222" stroke-width="1.5"/>
<text x="1098.66" y="321.70" font-size="12.4" textLength="170.53" lengthAdjust="spacingAndGlyphs" fill="#141414" stroke="#141414" stroke-width="0.5" >5&#39;- 3&#39; RNA polymerase activity</text>
<line x1="1272.0" y1="334.10" x2="1277.0" y2="334.10" stroke="#222" stroke-width="1.5"/>
<text x="1079.96" y="339.00" font-size="12.4" textLength="189.28" lengthAdjust="spacingAndGlyphs" fill="#141414" stroke="#141414" stroke-width="0.5" >translation initiation factor activity</text>
<line x1="1272.0" y1="351.40" x2="1277.0" y2="351.40" stroke="#222" stroke-width="1.5"/>
<text x="1167.42" y="356.30" font-size="12.4" textLength="101.82" lengthAdjust="spacingAndGlyphs" fill="#141414" stroke="#141414" stroke-width="0.5" >chromatin binding</text>
<line x1="1272.0" y1="368.70" x2="1277.0" y2="368.70" stroke="#222" stroke-width="1.5"/>
<text x="1044.87" y="373.60" font-size="12.4" textLength="224.38" lengthAdjust="spacingAndGlyphs" fill="#141414" stroke="#141414" stroke-width="0.5" >RNA- directed DNA polymerase activity</text>
<line x1="1272.0" y1="386.00" x2="1277.0" y2="386.00" stroke="#222" stroke-width="1.5"/>
<text x="1079.18" y="390.90" font-size="12.4" textLength="189.99" lengthAdjust="spacingAndGlyphs" fill="#141414" stroke="#141414" stroke-width="0.5" >structural constituent of ribosome</text>
<line x1="1272.0" y1="403.30" x2="1277.0" y2="403.30" stroke="#222" stroke-width="1.5"/>
<text x="1113.63" y="408.20" font-size="12.4" textLength="155.57" lengthAdjust="spacingAndGlyphs" fill="#141414" stroke="#141414" stroke-width="0.5" >protein dimerization activity</text>
<line x1="1272.0" y1="420.60" x2="1277.0" y2="420.60" stroke="#222" stroke-width="1.5"/>
<text x="1197.48" y="425.50" font-size="12.4" textLength="71.71" lengthAdjust="spacingAndGlyphs" fill="#141414" stroke="#141414" stroke-width="0.5" >RNA binding</text>
<line x1="1272.0" y1="437.90" x2="1277.0" y2="437.90" stroke="#222" stroke-width="1.5"/>
<text x="1148.71" y="442.80" font-size="12.4" textLength="120.47" lengthAdjust="spacingAndGlyphs" fill="#141414" stroke="#141414" stroke-width="0.5" >carbohydrate binding</text>
<line x1="1272.0" y1="455.20" x2="1277.0" y2="455.20" stroke="#222" stroke-width="1.5"/>
<text x="1155.94" y="460.10" font-size="12.4" textLength="113.28" lengthAdjust="spacingAndGlyphs" fill="#141414" stroke="#141414" stroke-width="0.5" >transposase activity</text>
<line x1="1272.0" y1="472.50" x2="1277.0" y2="472.50" stroke="#222" stroke-width="1.5"/>
<text x="1150.13" y="477.40" font-size="12.4" textLength="119.02" lengthAdjust="spacingAndGlyphs" fill="#141414" stroke="#141414" stroke-width="0.5" >pectate lyase activity</text>
<line x1="1272.0" y1="489.80" x2="1277.0" y2="489.80" stroke="#222" stroke-width="1.5"/>
<text x="1060.61" y="494.70" font-size="12.4" textLength="208.65" lengthAdjust="spacingAndGlyphs" fill="#141414" stroke="#141414" stroke-width="0.5" >aspartic- type endopeptidase activity</text>
<line x1="1272.0" y1="507.10" x2="1277.0" y2="507.10" stroke="#222" stroke-width="1.5"/>
<text x="1196.83" y="512.00" font-size="12.4" textLength="72.42" lengthAdjust="spacingAndGlyphs" fill="#141414" stroke="#141414" stroke-width="0.5" >NAD binding</text>
<line x1="1277.30" y1="517.4" x2="1277.30" y2="522.4" stroke="#222" stroke-width="1.5"/>
<text x="1265.01" y="533.20" font-size="11.8" textLength="24.52" lengthAdjust="spacingAndGlyphs" fill="#141414" stroke="#141414" stroke-width="0.5" >0.00</text>
<line x1="1312.75" y1="517.4" x2="1312.75" y2="522.4" stroke="#222" stroke-width="1.5"/>
<text x="1300.46" y="533.20" font-size="11.8" textLength="24.52" lengthAdjust="spacingAndGlyphs" fill="#141414" stroke="#141414" stroke-width="0.5" >0.02</text>
<line x1="1348.20" y1="517.4" x2="1348.20" y2="522.4" stroke="#222" stroke-width="1.5"/>
<text x="1335.91" y="533.20" font-size="11.8" textLength="24.52" lengthAdjust="spacingAndGlyphs" fill="#141414" stroke="#141414" stroke-width="0.5" >0.04</text>
<line x1="1383.65" y1="517.4" x2="1383.65" y2="522.4" stroke="#222" stroke-width="1.5"/>
<text x="1371.36" y="533.20" font-size="11.8" textLength="24.52" lengthAdjust="spacingAndGlyphs" fill="#141414" stroke="#141414" stroke-width="0.5" >0.06</text>
<line x1="1419.10" y1="517.4" x2="1419.10" y2="522.4" stroke="#222" stroke-width="1.5"/>
<text x="1406.81" y="533.20" font-size="11.8" textLength="24.52" lengthAdjust="spacingAndGlyphs" fill="#141414" stroke="#141414" stroke-width="0.5" >0.08</text>
<text x="1266.20" y="22.80" font-size="24" textLength="203.33" lengthAdjust="spacingAndGlyphs" fill="#000" stroke="#000" stroke-width="0.35" >PcPn_E vs PcPn_L</text>
<text x="1330.50" y="559.80" font-size="14" textLength="75.99" lengthAdjust="spacingAndGlyphs" fill="#111" stroke="#111" stroke-width="0.25" >Rich factor</text>
<text x="1479.30" y="168.60" font-size="11" textLength="36.76" lengthAdjust="spacingAndGlyphs" fill="#141414" stroke="#141414" stroke-width="0.5" >pvalue</text>
<linearGradient id="g3" x1="0" y1="0" x2="0" y2="1"><stop offset="0.00" stop-color="#00ff00"/><stop offset="0.05" stop-color="#49f700"/><stop offset="0.10" stop-color="#65ef00"/><stop offset="0.15" stop-color="#7ae700"/><stop offset="0.20" stop-color="#8adf00"/><stop offset="0.25" stop-color="#98d700"/><stop offset="0.30" stop-color="#a4ce00"/><stop offset="0.35" stop-color="#aec600"/><stop offset="0.40" stop-color="#b8bd00"/><stop offset="0.45" stop-color="#c1b400"/><stop offset="0.50" stop-color="#c9ab00"/><stop offset="0.55" stop-color="#d0a100"/><stop offset="0.60" stop-color="#d79800"/><stop offset="0.65" stop-color="#dd8d00"/><stop offset="0.70" stop-color="#e38200"/><stop offset="0.75" stop-color="#e87600"/><stop offset="0.80" stop-color="#ed6a00"/><stop offset="0.85" stop-color="#f25b00"/><stop offset="0.90" stop-color="#f74a00"/><stop offset="0.95" stop-color="#fb3300"/><stop offset="1.00" stop-color="#ff0000"/></linearGradient>
<rect x="1479.3" y="176.7" width="21.700000000000045" height="110.90000000000003" fill="url(#g3)"/>
<line x1="1479.3" y1="195.0" x2="1483.64" y2="195.0" stroke="#fff" stroke-width="1" opacity="0.8"/>
<line x1="1496.66" y1="195.0" x2="1501.0" y2="195.0" stroke="#fff" stroke-width="1" opacity="0.8"/>
<text x="1508.20" y="198.69" font-size="10.3" textLength="21.02" lengthAdjust="spacingAndGlyphs" fill="#141414" stroke="#141414" stroke-width="0.5" >0.04</text>
<line x1="1479.3" y1="218.0" x2="1483.64" y2="218.0" stroke="#fff" stroke-width="1" opacity="0.8"/>
<line x1="1496.66" y1="218.0" x2="1501.0" y2="218.0" stroke="#fff" stroke-width="1" opacity="0.8"/>
<text x="1508.20" y="221.69" font-size="10.3" textLength="21.02" lengthAdjust="spacingAndGlyphs" fill="#141414" stroke="#141414" stroke-width="0.5" >0.03</text>
<line x1="1479.3" y1="242.3" x2="1483.64" y2="242.3" stroke="#fff" stroke-width="1" opacity="0.8"/>
<line x1="1496.66" y1="242.3" x2="1501.0" y2="242.3" stroke="#fff" stroke-width="1" opacity="0.8"/>
<text x="1508.20" y="245.99" font-size="10.3" textLength="21.02" lengthAdjust="spacingAndGlyphs" fill="#141414" stroke="#141414" stroke-width="0.5" >0.02</text>
<line x1="1479.3" y1="265.8" x2="1483.64" y2="265.8" stroke="#fff" stroke-width="1" opacity="0.8"/>
<line x1="1496.66" y1="265.8" x2="1501.0" y2="265.8" stroke="#fff" stroke-width="1" opacity="0.8"/>
<text x="1508.20" y="269.49" font-size="10.3" textLength="21.02" lengthAdjust="spacingAndGlyphs" fill="#141414" stroke="#141414" stroke-width="0.5" >0.01</text>
<text x="1479.40" y="327.80" font-size="11" textLength="31.15" lengthAdjust="spacingAndGlyphs" fill="#141414" stroke="#141414" stroke-width="0.5" >count</text>
<circle cx="1490.2" cy="346.7" r="7.20" fill="#000"/>
<text x="1508.10" y="350.39" font-size="10.3" textLength="12.01" lengthAdjust="spacingAndGlyphs" fill="#141414" stroke="#141414" stroke-width="0.5" >50</text>
<circle cx="1490.2" cy="369.0" r="8.50" fill="#000"/>
<text x="1508.10" y="372.69" font-size="10.3" textLength="18.02" lengthAdjust="spacingAndGlyphs" fill="#141414" stroke="#141414" stroke-width="0.5" >100</text>
<circle cx="1490.2" cy="391.5" r="9.65" fill="#000"/>
<text x="1508.10" y="395.19" font-size="10.3" textLength="18.02" lengthAdjust="spacingAndGlyphs" fill="#141414" stroke="#141414" stroke-width="0.5" >150</text>
</svg>
</body></html>
